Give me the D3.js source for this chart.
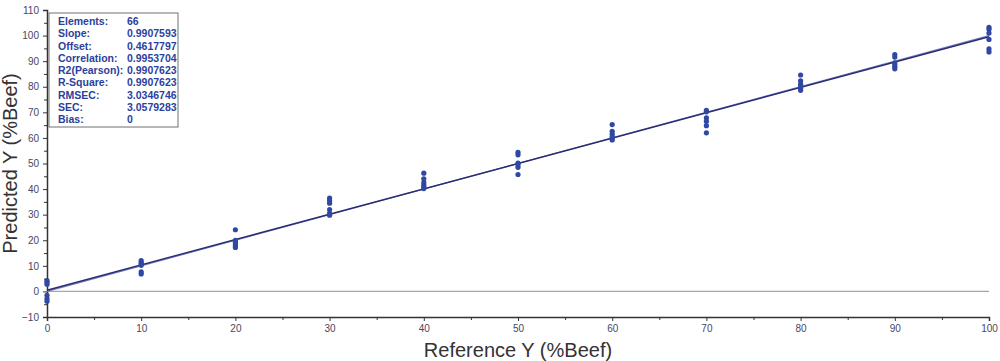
<!DOCTYPE html>
<html>
<head>
<meta charset="utf-8">
<script src="https://cdn.jsdelivr.net/npm/d3@7"></script>
<style>
  body { margin: 0; background: #fff; }
  svg { display: block; }
</style>
</head>
<body>
<script>
// reference levels (%Beef) and the six predicted values read at each level
const refLevels = [0, 10, 20, 30, 40, 50, 60, 70, 80, 90, 100];
const predicted = [
	[4.2, 3.6, 2.8, -1.5, -2.8, -3.8],
	[12.0, 11.3, 10.8, 10.2, 7.6, 6.8],
	[24.1, 20.0, 19.2, 18.5, 17.8, 17.2],
	[36.5, 35.5, 34.5, 32.0, 30.5, 29.8],
	[46.2, 44.0, 42.5, 41.5, 40.8, 40.2],
	[54.4, 53.4, 50.2, 49.5, 48.5, 45.7],
	[65.2, 62.6, 61.5, 60.5, 59.8, 59.2],
	[70.8, 70.2, 67.8, 66.5, 64.8, 62.0],
	[84.6, 82.3, 81.0, 80.0, 79.3, 78.6],
	[92.6, 91.6, 89.3, 88.5, 87.8, 87.0],
	[103.2, 102.5, 101.0, 98.5, 94.8, 93.6]
];

const statLabels = ['Elements:', 'Slope:', 'Offset:', 'Correlation:', 'R2(Pearson):', 'R-Square:', 'RMSEC:', 'SEC:', 'Bias:'];
const statValues = ['66', '0.9907593', '0.4617797', '0.9953704', '0.9907623', '0.9907623', '3.0346746', '3.0579283', '0'];

const slope = 0.9907593;
const offset = 0.4617797;

const width = 1000, height = 361;
const margin = {top: 10, right: 11, bottom: 44, left: 47};

const svg = d3.select('body').append('svg')
	.attr('width', width)
	.attr('height', height);

const x = d3.scaleLinear().domain([0, 100]).range([margin.left, width - margin.right]);
const y = d3.scaleLinear().domain([-10, 110]).range([height - margin.bottom, margin.top]);

const axisColor = '#333';
const tickFont = 'Liberation Sans, Arial, sans-serif';

// zero line
svg.append('line')
	.attr('x1', x(0)).attr('x2', x(100))
	.attr('y1', y(0)).attr('y2', y(0))
	.attr('stroke', '#a8a8a8')
	.attr('stroke-width', 1.2);

// minor ticks
const yMinor = d3.range(-5, 110, 10);
const xMinor = d3.range(5, 100, 10);

svg.append('g')
	.attr('transform', `translate(${x(0)},0)`)
	.call(d3.axisLeft(y).tickValues(d3.range(-10, 111, 10)).tickSize(4).tickPadding(4));
svg.append('g')
	.attr('transform', `translate(${x(0)},0)`)
	.call(d3.axisLeft(y).tickValues(yMinor).tickSize(3).tickFormat(''))
	.select('.domain').remove();

svg.append('g')
	.attr('transform', `translate(0,${y(-10)})`)
	.call(d3.axisBottom(x).tickValues(refLevels).tickSize(4).tickPadding(4));
svg.append('g')
	.attr('transform', `translate(0,${y(-10)})`)
	.call(d3.axisBottom(x).tickValues(xMinor).tickSize(3).tickFormat(''))
	.select('.domain').remove();

svg.selectAll('.domain').attr('stroke', axisColor).attr('stroke-width', 1.5);
svg.selectAll('.tick line').attr('stroke', axisColor);
svg.selectAll('.tick text')
	.attr('fill', '#4a4560')
	.style('font-family', tickFont)
	.style('font-size', '10px');

// target line y = x and fitted line
svg.append('line')
	.attr('x1', x(0)).attr('y1', y(0))
	.attr('x2', x(100)).attr('y2', y(100))
	.attr('stroke', '#6d7fc4')
	.attr('stroke-width', 1.2);

svg.append('line')
	.attr('x1', x(0)).attr('y1', y(offset))
	.attr('x2', x(100)).attr('y2', y(offset + slope * 100))
	.attr('stroke', '#2a2a6e')
	.attr('stroke-width', 1.4);

// points
const points = [];
refLevels.forEach(function(ref, i) {
	predicted[i].forEach(function(p) {
		points.push({ref: ref, pred: p});
	});
});

svg.append('g')
	.selectAll('circle')
	.data(points)
	.enter()
	.append('circle')
	.attr('cx', function(d) { return x(d.ref); })
	.attr('cy', function(d) { return y(d.pred); })
	.attr('r', 2.6)
	.attr('fill', '#2f48a3');

// stats box
const box = svg.append('g').attr('transform', `translate(${x(0) + 2},13)`);
box.append('rect')
	.attr('width', 129)
	.attr('height', 114)
	.attr('fill', '#fff')
	.attr('stroke', '#707070')
	.attr('stroke-width', 1);

const rowY = d3.scalePoint().domain(statLabels).range([12, 110]);

box.selectAll('text.lab')
	.data(statLabels)
	.enter()
	.append('text')
	.attr('class', 'lab')
	.attr('x', 9)
	.attr('y', function(d) { return rowY(d); })
	.text(function(d) { return d; });

box.selectAll('text.val')
	.data(statValues)
	.enter()
	.append('text')
	.attr('class', 'val')
	.attr('x', 78)
	.attr('y', function(d, i) { return rowY(statLabels[i]); })
	.text(function(d) { return d; });

box.selectAll('text')
	.attr('fill', '#2b3f9e')
	.style('font-family', 'Liberation Sans Narrow, Liberation Sans, Arial, sans-serif')
	.style('font-weight', 'bold')
	.style('font-size', '10.5px');

// axis titles
svg.append('text')
	.attr('x', (x(0) + x(100)) / 2)
	.attr('y', 357)
	.attr('text-anchor', 'middle')
	.attr('fill', '#333')
	.style('font-family', tickFont)
	.style('font-size', '20px')
	.text('Reference Y (%Beef)');

svg.append('text')
	.attr('transform', `translate(17,${(y(-10) + y(110)) / 2}) rotate(-90)`)
	.attr('text-anchor', 'middle')
	.attr('fill', '#333')
	.style('font-family', tickFont)
	.style('font-size', '20px')
	.text('Predicted Y (%Beef)');
</script>
</body>
</html>
